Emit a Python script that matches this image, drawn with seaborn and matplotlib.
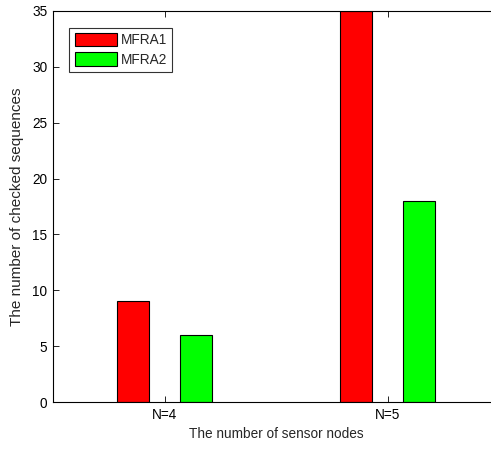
import matplotlib
matplotlib.use("Agg")
import matplotlib.pyplot as plt
import pandas as pd
import seaborn as sns

categories = ["N=4", "N=5"]
mfra1 = [9, 35]
mfra2 = [6, 18]
series_names = ["MFRA1", "MFRA2"]
colors = ["#ff0000", "#00ff00"]

df = pd.DataFrame({
    "nodes": categories * 2,
    "count": mfra1 + mfra2,
    "method": [series_names[0]] * len(categories) + [series_names[1]] * len(categories),
})

sns.set_style("white")
plt.rcParams["font.family"] = ["Liberation Sans", "DejaVu Sans"]

fig = plt.figure(figsize=(4.91, 4.49), dpi=100)
ax = fig.add_axes([53 / 491, 47 / 449, 446 / 491, 391 / 449])

sns.barplot(data=df, x="nodes", y="count", hue="method", order=categories,
            hue_order=series_names, palette=colors, width=0.572, gap=0.5,
            edgecolor="black", linewidth=0.8, saturation=1, ax=ax)

ax.set_xlim(-0.5, 1.5)
ax.set_ylim(0, 35)
ax.set_yticks(range(0, 36, 5))
ax.set_xlabel("The number of sensor nodes", fontsize=9.8, labelpad=4)
ax.set_ylabel("The number of checked sequences", fontsize=11, labelpad=6)

for name, s in ax.spines.items():
    s.set_visible(name != "right")
    s.set_color("black")
    s.set_linewidth(0.8)
ax.tick_params(direction="in", length=4, width=0.6, colors="black",
               labelsize=9.8, top=True, right=False, bottom=True, left=True)
ax.tick_params(axis="both", which="both", pad=4)

leg = ax.legend(loc="upper left", bbox_to_anchor=(0.036, 0.957), fontsize=9.8,
                frameon=True, fancybox=False, edgecolor="black",
                handlelength=3.1, handleheight=1.1, borderpad=0.4,
                labelspacing=0.37, handletextpad=0.3, borderaxespad=0)
leg.get_frame().set_linewidth(0.8)
leg.set_title(None)

fig.savefig("out.png", dpi=100, facecolor="white")
